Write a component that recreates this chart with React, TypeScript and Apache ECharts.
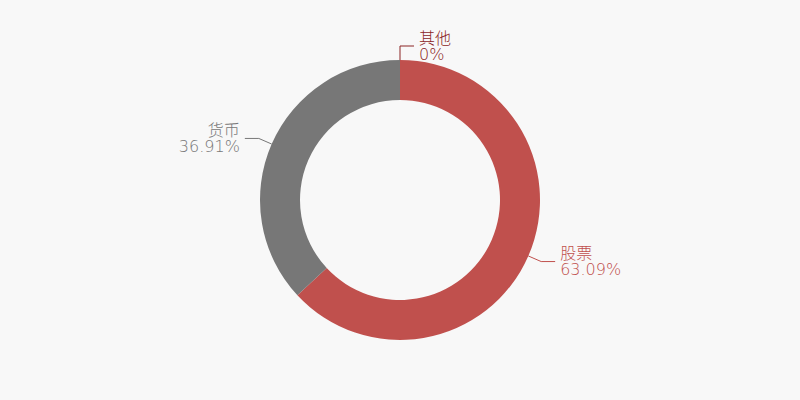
import { useEffect, useRef } from "react";
import * as echarts from "echarts";

const names = ["股票", "货币", "其他"];
const values = [63.09, 36.91, 0];
const colors = ["#c0504d", "#777777", "#8b2525"];

export default function App() {
  const ref = useRef<HTMLDivElement>(null);

  useEffect(() => {
    if (!ref.current) return;
    const chart = echarts.init(ref.current, undefined, { renderer: "svg" });

    chart.setOption({
      animation: false,
      backgroundColor: "#f8f8f8",
      series: [
        {
          type: "pie",
          radius: [100, 140],
          center: [400, 200],
          startAngle: 90,
          clockwise: true,
          avoidLabelOverlap: false,
          data: names.map((n, i) => ({
            name: n,
            value: values[i],
            itemStyle: { color: colors[i] },
            label: { color: colors[i] },
          })),
          label: {
            show: true,
            formatter: "{b}\n{c}%",
            fontSize: 16,
            lineHeight: 16,
            fontWeight: 200,
            fontFamily: "'DejaVu Sans', 'Noto Sans CJK SC', sans-serif",
          },
          labelLine: { show: true, length: 14, length2: 14, lineStyle: { width: 1 } },
        },
      ],
    });

    return () => chart.dispose();
  }, []);

  return (
    <div
      ref={ref}
      style={{ position: "absolute", left: 0, top: 0, width: 800, height: 400 }}
    />
  );
}
